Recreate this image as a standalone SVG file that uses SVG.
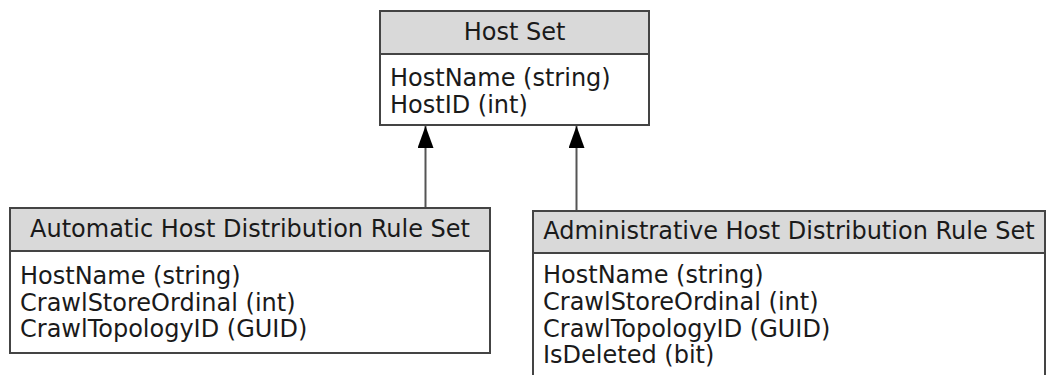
<svg xmlns="http://www.w3.org/2000/svg" width="1047" height="375" viewBox="0 0 1047 375">
  <style>
    .box { fill: #ffffff; stroke: #444444; stroke-width: 2; }
    .head { fill: #d9d9d9; stroke: #444444; stroke-width: 2; }
    .title { font-family: "DejaVu Sans", Verdana, sans-serif; font-size: 24px; fill: #1a1a1a; text-anchor: middle; }
    .attr { font-family: "DejaVu Sans", Verdana, sans-serif; font-size: 24px; fill: #1a1a1a; }
    .conn { stroke: #555555; stroke-width: 2; fill: none; }
  </style>
  <defs>
    <!-- filled triangle, tip at the end of the path -->
    <marker id="tri" viewBox="0 0 22 16" refX="22" refY="8" markerWidth="22" markerHeight="16" markerUnits="userSpaceOnUse" orient="auto">
      <path d="M0,0 L22,8 L0,16 Z" fill="#000000"/>
    </marker>
  </defs>
  <rect width="1047" height="375" fill="#ffffff"/>

  <!-- generalisation connectors -->
  <g id="connectors">
    <path class="conn" d="M425.5,208 V126" marker-end="url(#tri)"/>
    <path class="conn" d="M576.5,211 V126" marker-end="url(#tri)"/>
  </g>

  <g id="host-set">
    <rect class="box" x="380" y="11" width="269" height="114"/>
    <rect class="head" x="380" y="11" width="269" height="43"/>
    <text class="title" x="514.5" y="40">Host Set</text>
    <text class="attr" x="390" y="86">HostName (string)</text>
    <text class="attr" x="390" y="113">HostID (int)</text>
  </g>

  <g id="automatic-rule-set">
    <rect class="box" x="10" y="208" width="480" height="145"/>
    <rect class="head" x="10" y="208" width="480" height="43"/>
    <text class="title" x="250" y="237">Automatic Host Distribution Rule Set</text>
    <text class="attr" x="20" y="284">HostName (string)</text>
    <text class="attr" x="20" y="311">CrawlStoreOrdinal (int)</text>
    <text class="attr" x="20" y="337">CrawlTopologyID (GUID)</text>
  </g>

  <g id="administrative-rule-set">
    <rect class="box" x="533" y="211" width="512" height="180"/>
    <rect class="head" x="533" y="211" width="512" height="42"/>
    <text class="title" x="789" y="239">Administrative Host Distribution Rule Set</text>
    <text class="attr" x="543" y="283">HostName (string)</text>
    <text class="attr" x="543" y="310">CrawlStoreOrdinal (int)</text>
    <text class="attr" x="543" y="337">CrawlTopologyID (GUID)</text>
    <text class="attr" x="543" y="363">IsDeleted (bit)</text>
  </g>
</svg>
